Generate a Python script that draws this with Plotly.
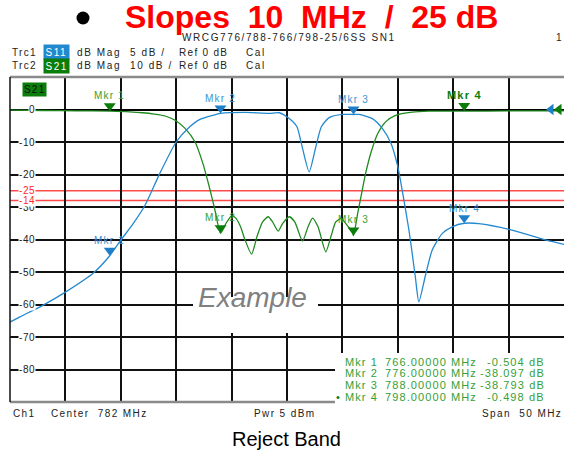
import plotly.graph_objects as go

# ---------------- data ----------------
freq_s21 = [757.0, 760.0, 763.0, 766.0, 767.8, 769.0, 770.0, 771.0, 771.9, 772.8, 773.7, 774.4,
            775.0, 775.5, 776.0, 776.5, 777.0, 777.4, 777.8, 778.2, 778.8, 779.3, 779.8, 780.3,
            780.7, 781.2, 781.6, 782.2, 782.7, 783.4, 783.9, 784.3, 784.8, 785.5, 786.0, 786.4,
            786.9, 787.3, 787.9, 788.0, 788.4, 788.7, 789.1, 789.6, 790.2, 790.9, 791.8, 793.3,
            794.8, 798.0, 802.0, 807.0]
s21_db = [-0.2, -0.3, -0.4, -0.504, -0.7, -1.0, -1.4, -2.0, -3.3, -5.8, -10.0, -16.5,
          -24.0, -31.0, -38.1, -35.0, -32.7, -33.5, -36.0, -40.0, -44.5, -39.0, -34.6, -33.0,
          -34.6, -37.4, -35.1, -33.0, -34.6, -40.5, -36.1, -33.4, -36.1, -43.8, -38.7, -34.6,
          -33.5, -35.1, -37.7, -38.793, -31.6, -26.4, -19.6, -13.0, -7.3, -3.8, -1.8, -0.8,
          -0.5, -0.498, -0.45, -0.4]

freq_s11 = [757.0, 757.9, 760.0, 762.0, 764.5, 766.0, 767.0, 768.1, 769.2, 770.5, 772.0, 773.2,
            774.1, 775.3, 776.0, 778.2, 780.4, 781.3, 782.2, 782.9, 783.3, 784.0, 784.6, 785.1,
            785.8, 787.0, 788.0, 788.5, 789.7, 790.6, 791.4, 792.0, 792.5, 793.0, 793.3, 793.6,
            793.9, 794.5, 795.1, 796.0, 796.9, 798.0, 799.3, 802.3, 805.4, 807.0]
s11_db = [-32.7, -31.9, -30.1, -28.1, -25.2, -22.5, -20.1, -17.6, -14.7, -9.9, -5.0, -2.7,
          -1.55, -0.9, -0.6, -0.45, -0.6, -0.5, -1.4, -2.65, -5.25, -9.6, -5.75, -2.65,
          -1.25, -0.75, -0.77, -0.75, -1.4, -2.9, -5.25, -8.8, -13.45, -18.5, -22.15, -26.0,
          -29.6, -25.5, -21.65, -19.1, -18.05, -17.5, -17.55, -18.55, -20.1, -20.75]

mkr_names = ["Mkr 1", "Mkr 2", "Mkr 3", "Mkr 4"]
mkr_freq = [766.0, 776.0, 788.0, 798.0]
mkr_s21 = [-0.504, -38.097, -38.793, -0.498]
mkr_s11 = [-22.5, -0.6, -0.77, -17.5]

limit_s21 = -25
limit_s11 = -14
center_mhz = 782
span_mhz = 50
ref_level = 0
y_tick_vals = [0, -10, -20, -30, -40, -50, -60, -70, -80]

# ---------------- geometry ----------------
W, H = 564, 452
ML, MR, MT, MB = 10, 0, 77, 50
PW, PH = W - ML - MR, H - MT - MB
f0, f1 = center_mhz - span_mhz / 2, center_mhz + span_mhz / 2
S21_RANGE = [-90, 10]
S11_RANGE = [-45, 5]

def xp(px):
    return (px - ML) / PW

def yp(py):
    return (H - MB - py) / PH

FONT = "Arial, Liberation Sans, sans-serif"
BLUE = "#2389cf"
GREEN = "#1f8a1f"
DKGREEN = "#0b7d0b"
LTGREEN = "#35a035"
RED = "#ff4a4a"

def ls(s, sp=1.5):
    return f'<span style="letter-spacing:{sp}px">{s}</span>'

fig = go.Figure()

fig.add_trace(go.Scatter(x=freq_s11, y=s11_db, yaxis="y2", mode="lines",
                         line=dict(color=BLUE, width=1.3, shape="spline", smoothing=0.6),
                         hoverinfo="skip", showlegend=False))
fig.add_trace(go.Scatter(x=freq_s21, y=s21_db, mode="lines",
                         line=dict(color=GREEN, width=1.3, shape="spline", smoothing=0.6),
                         hoverinfo="skip", showlegend=False))

# reference level indicators (right edge)
fig.add_trace(go.Scatter(x=[f1 - 13 * span_mhz / PW], y=[ref_level], yaxis="y2", mode="markers",
                         marker=dict(symbol="triangle-left", size=10, color="#1e7fc8"),
                         cliponaxis=False, hoverinfo="skip", showlegend=False))
fig.add_trace(go.Scatter(x=[f1 - 5 * span_mhz / PW], y=[ref_level], mode="markers",
                         marker=dict(symbol="triangle-left", size=10, color=DKGREEN),
                         cliponaxis=False, hoverinfo="skip", showlegend=False))

shapes = []
annotations = []

# limit lines
shapes.append(dict(type="line", xref="paper", x0=0, x1=1, yref="y", y0=limit_s21, y1=limit_s21,
                   line=dict(color=RED, width=1.5), layer="below"))
shapes.append(dict(type="line", xref="paper", x0=0, x1=1, yref="y2", y0=limit_s11, y1=limit_s11,
                   line=dict(color=RED, width=1.5), layer="below"))

# borders
shapes.append(dict(type="line", xref="paper", yref="paper", x0=0, x1=1, y0=1, y1=1,
                   line=dict(color="#8a8a8a", width=2.5), layer="above"))
shapes.append(dict(type="line", xref="paper", yref="paper", x0=0, x1=1, y0=0, y1=0,
                   line=dict(color="#8a8a8a", width=2.5), layer="above"))
shapes.append(dict(type="line", xref="paper", yref="paper", x0=0, x1=0, y0=0, y1=1,
                   line=dict(color="#111", width=1.5), layer="above"))

# white boxes (Example and marker table)
shapes.append(dict(type="rect", xref="paper", yref="paper", x0=xp(193), x1=xp(318), y0=yp(333), y1=yp(297),
                   fillcolor="white", line=dict(width=0), layer="above"))
shapes.append(dict(type="rect", xref="paper", yref="paper", x0=xp(335), x1=1.01, y0=-0.02, y1=yp(353),
                   fillcolor="white", line=dict(width=0), layer="above"))

# header bullet
shapes.append(dict(type="circle", xref="paper", yref="paper", x0=xp(76.5), x1=xp(89.5), y0=yp(24.5), y1=yp(11.5),
                   fillcolor="black", line=dict(width=0)))

# marker triangles
TRI_W, TRI_H = 12, 8
dx = TRI_W / 2 * span_mhz / PW
dy21 = TRI_H * (S21_RANGE[1] - S21_RANGE[0]) / PH
dy11 = TRI_H * (S11_RANGE[1] - S11_RANGE[0]) / PH
for i, (f, v21, v11) in enumerate(zip(mkr_freq, mkr_s21, mkr_s11)):
    shapes.append(dict(type="path", xref="x", yref="y",
                       path=f"M {f - dx},{v21 + dy21} L {f + dx},{v21 + dy21} L {f},{v21} Z",
                       fillcolor=DKGREEN, line=dict(width=0), layer="above"))
    shapes.append(dict(type="path", xref="x", yref="y2",
                       path=f"M {f - dx},{v11 + dy11} L {f + dx},{v11 + dy11} L {f},{v11} Z",
                       fillcolor="#1e7fc8", line=dict(width=0), layer="above"))
    bold = (i == 3)
    annotations.append(dict(x=f, y=v21, yref="y", xref="x", showarrow=False, yanchor="middle",
                            yshift=TRI_H + 8,
                            text=ls(f"<b>{mkr_names[i]}</b>" if bold else mkr_names[i], 1.2),
                            font=dict(family=FONT, size=11 if bold else 10, color=DKGREEN if bold else LTGREEN)))
    annotations.append(dict(x=f, y=v11, yref="y2", xref="x", showarrow=False, yanchor="middle",
                            yshift=TRI_H + 7, text=ls(mkr_names[i], 1.2),
                            font=dict(family=FONT, size=10, color="#3a95d3")))

# y tick labels (inside plot)
for v in y_tick_vals:
    annotations.append(dict(x=xp(36), xref="paper", y=v, yref="y", xanchor="right", yanchor="middle",
                            showarrow=False, text=ls(str(v), 0.6), bgcolor="white", borderpad=0,
                            font=dict(family=FONT, size=10, color="#222")))
annotations.append(dict(x=xp(36), xref="paper", y=limit_s21, yref="y", xanchor="right", yanchor="middle",
                        showarrow=False, text=ls(str(limit_s21), 0.6), bgcolor="white", borderpad=0,
                        font=dict(family=FONT, size=10, color="#ff2a2a")))
annotations.append(dict(x=xp(36), xref="paper", y=limit_s11, yref="y2", xanchor="right", yanchor="middle",
                        showarrow=False, text=ls(str(limit_s11), 0.6), bgcolor="white", borderpad=0,
                        font=dict(family=FONT, size=10, color="#ff2a2a")))

# S21 label box in plot
annotations.append(dict(x=xp(22), y=yp(89.5), xref="paper", yref="paper", xanchor="left", yanchor="middle",
                        showarrow=False, text=ls("S21", 1.2), bgcolor=DKGREEN, borderpad=1,
                        font=dict(family=FONT, size=10, color="#111")))

# Example watermark
annotations.append(dict(x=xp(252), y=yp(315), xref="paper", yref="paper", showarrow=False,
                        text="<i>Example</i>", font=dict(family=FONT, size=28, color="#808080")))

# Marker table
rows_y = [361.7, 373.3, 385.0, 396.7]
for i in range(4):
    y = yp(rows_y[i])
    annotations.append(dict(x=xp(343), y=y, xref="paper", yref="paper", xanchor="left", yanchor="middle",
                            showarrow=False, text=ls(mkr_names[i], 1.1),
                            font=dict(family=FONT, size=11, color=LTGREEN)))
    annotations.append(dict(x=xp(383), y=y, xref="paper", yref="paper", xanchor="left", yanchor="middle",
                            showarrow=False, text=ls(f"{mkr_freq[i]:.5f} MHz", 1.1),
                            font=dict(family=FONT, size=11, color=LTGREEN)))
    annotations.append(dict(x=xp(547), y=y, xref="paper", yref="paper", xanchor="right", yanchor="middle",
                            showarrow=False, text=ls(f"{mkr_s21[i]:.3f} dB", 1.1),
                            font=dict(family=FONT, size=11, color=LTGREEN)))
annotations.append(dict(x=xp(342), y=yp(rows_y[3]), xref="paper", yref="paper", xanchor="right", yanchor="middle",
                        showarrow=False, text="•", font=dict(family=FONT, size=11, color=DKGREEN)))

# Header
NB = "\u00a0"
annotations.append(dict(x=xp(123), y=yp(17), xref="paper", yref="paper", xanchor="left", yanchor="middle",
                        showarrow=False,
                        text=f"<b>Slopes{NB}{NB}10{NB}{NB}MHz{NB}{NB}/{NB}{NB}25{NB}dB</b>",
                        font=dict(family=FONT, size=32, color="#ff0000")))
annotations.append(dict(x=xp(180), y=yp(38), xref="paper", yref="paper", xanchor="left", yanchor="middle",
                        showarrow=False, text=ls("WRCG776/788-766/798-25/6SS SN1", 1.6),
                        font=dict(family=FONT, size=10, color="#222")))
annotations.append(dict(x=xp(564), y=yp(38), xref="paper", yref="paper", xanchor="right", yanchor="middle",
                        showarrow=False, text="1", font=dict(family=FONT, size=10, color="#222")))

hdr = [
    (52.3, "Trc1", "S11", BLUE, "white", "5 dB /"),
    (65.7, "Trc2", "S21", DKGREEN, "white", "10 dB /"),
]
for (yy, trc, par, bg, fc, scale) in hdr:
    y = yp(yy)
    annotations.append(dict(x=xp(10), y=y, xref="paper", yref="paper", xanchor="left", yanchor="middle",
                            showarrow=False, text=ls(trc, 1.3), font=dict(family=FONT, size=10, color="#222")))
    annotations.append(dict(x=xp(43), y=y, xref="paper", yref="paper", xanchor="left", yanchor="middle",
                            showarrow=False, text=ls(par, 1.5), bgcolor=bg, borderpad=1.5,
                            font=dict(family=FONT, size=10, color=fc)))
    annotations.append(dict(x=xp(75), y=y, xref="paper", yref="paper", xanchor="left", yanchor="middle",
                            showarrow=False, text=ls("dB Mag", 1.6), font=dict(family=FONT, size=10, color="#222")))
    annotations.append(dict(x=xp(128), y=y, xref="paper", yref="paper", xanchor="left", yanchor="middle",
                            showarrow=False, text=ls(scale, 1.6), font=dict(family=FONT, size=10, color="#222")))
    annotations.append(dict(x=xp(177), y=y, xref="paper", yref="paper", xanchor="left", yanchor="middle",
                            showarrow=False, text=ls("Ref 0 dB", 1.3), font=dict(family=FONT, size=10, color="#222")))
    annotations.append(dict(x=xp(244), y=y, xref="paper", yref="paper", xanchor="left", yanchor="middle",
                            showarrow=False, text=ls("Cal", 1.6), font=dict(family=FONT, size=10, color="#222")))

# Footer
fy = yp(413)
annotations.append(dict(x=xp(11), y=fy, xref="paper", yref="paper", xanchor="left", yanchor="middle",
                        showarrow=False, text=ls("Ch1", 1.4), font=dict(family=FONT, size=10, color="#222")))
annotations.append(dict(x=xp(49), y=fy, xref="paper", yref="paper", xanchor="left", yanchor="middle",
                        showarrow=False, text=ls(f"Center{NB} {center_mhz} MHz", 1.4),
                        font=dict(family=FONT, size=10, color="#222")))
annotations.append(dict(x=xp(252), y=fy, xref="paper", yref="paper", xanchor="left", yanchor="middle",
                        showarrow=False, text=ls("Pwr 5 dBm", 1.4), font=dict(family=FONT, size=10, color="#222")))
annotations.append(dict(x=xp(564), y=fy, xref="paper", yref="paper", xanchor="right", yanchor="middle",
                        showarrow=False, text=ls(f"Span{NB} {span_mhz} MHz", 1.4),
                        font=dict(family=FONT, size=10, color="#222")))
annotations.append(dict(x=xp(286), y=yp(439), xref="paper", yref="paper", showarrow=False, yanchor="middle",
                        text="Reject Band", font=dict(family=FONT, size=20, color="black")))

fig.update_layout(
    width=W, height=H,
    margin=dict(l=ML, r=MR, t=MT, b=MB, pad=0),
    paper_bgcolor="white", plot_bgcolor="white",
    xaxis=dict(range=[f0, f1], tick0=f0, dtick=5, showgrid=True, gridcolor="#111", gridwidth=1.5,
               showticklabels=False, ticks="", zeroline=False, showline=False, fixedrange=True),
    yaxis=dict(range=S21_RANGE, tick0=0, dtick=10, showgrid=True, gridcolor="#111", gridwidth=1.5,
               showticklabels=False, ticks="", zeroline=True, zerolinecolor="#000", zerolinewidth=2.2,
               showline=False, fixedrange=True),
    yaxis2=dict(range=S11_RANGE, overlaying="y", visible=False, showgrid=False, zeroline=False,
                fixedrange=True),
    shapes=shapes, annotations=annotations, showlegend=False,
)

fig.write_html("out.html", config={"displayModeBar": False},
               post_script="document.body.style.margin='0px';document.body.style.overflow='hidden';")
